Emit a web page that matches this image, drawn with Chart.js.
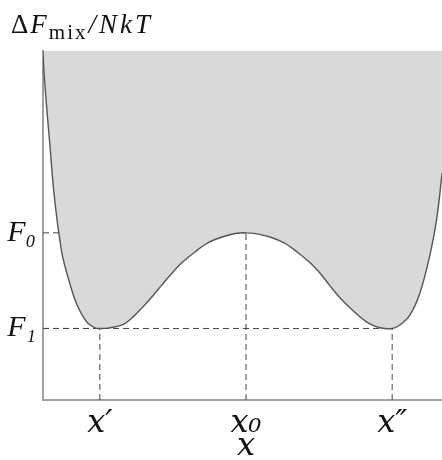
<!DOCTYPE html>
<html>
<head>
<meta charset="utf-8">
<script src="https://cdn.jsdelivr.net/npm/chart.js@4.4.0/dist/chart.umd.min.js"></script>
<style>
    html, body { margin: 0; padding: 0; background: #fff; overflow: hidden; }
    .wrap { position: relative; width: 449px; height: 460px; }
</style>
</head>
<body>
<div class="wrap"><canvas id="mix_chart"></canvas></div>
<script>
// free energy of mixing curve (x 0..1, y 0..1)
const curveX = [0, 0.0025, 0.010, 0.017, 0.025, 0.034, 0.039, 0.049, 0.067, 0.084, 0.108, 0.128, 0.140,
    0.160, 0.195, 0.219, 0.244, 0.268, 0.293, 0.318, 0.342, 0.374, 0.406, 0.441, 0.473, 0.500,
    0.527, 0.559, 0.594, 0.626, 0.658, 0.682, 0.707, 0.732, 0.756, 0.781, 0.805, 0.830, 0.860,
    0.879, 0.904, 0.929, 0.953, 0.970, 0.983];
const curveY = [1.0, 0.940, 0.825, 0.731, 0.616, 0.521, 0.479, 0.407, 0.330, 0.272, 0.223, 0.207, 0.205,
    0.206, 0.215, 0.235, 0.264, 0.295, 0.330, 0.364, 0.393, 0.424, 0.450, 0.467, 0.477, 0.479,
    0.476, 0.467, 0.450, 0.424, 0.393, 0.364, 0.327, 0.292, 0.264, 0.238, 0.218, 0.207, 0.205,
    0.215, 0.244, 0.309, 0.415, 0.521, 0.650];

// marked points: x', x0, x''
const xTickValues = [0.14, 0.5, 0.86];
const xTickLabels = ['x′', 'x₀', 'x″'];
const yTickValues = [0.205, 0.479];
const yTickLabels = ['F₁', 'F₀'];
const guideX = [0.14, 0.5, 0.86];
const guideY = [0.205, 0.479, 0.205];

const SERIF = '"Liberation Serif", "Times New Roman", serif';
const MATH = '"DejaVu Serif", serif';

const curveData = curveX.map((x, i) => ({x: x, y: curveY[i]}));

let guides = [];
guideX.forEach(function (gx, i) {
    guides.push({ data: [{x: 0, y: guideY[i]}, {x: gx, y: guideY[i]}] });
    guides.push({ data: [{x: gx, y: 0}, {x: gx, y: guideY[i]}] });
});

const datasets = [{
    label: 'F',
    data: curveData,
    borderColor: '#555',
    borderWidth: 1.4,
    backgroundColor: '#d9d9d9',
    fill: 'end',
    pointRadius: 0,
    tension: 0.35
}];
guides.forEach(function (g) {
    datasets.push({
        data: g.data,
        borderColor: '#444',
        borderWidth: 1,
        borderDash: [6, 4],
        pointRadius: 0,
        fill: false
    });
});

// title with subscript, drawn in the top padding
const titlePlugin = {
    id: 'mixTitle',
    afterDraw(chart) {
        const ctx = chart.ctx;
        ctx.save();
        ctx.fillStyle = '#111';
        ctx.textBaseline = 'alphabetic';
        let x = 11, y = 33;
        ctx.letterSpacing = '2px';
        ctx.font = '27px ' + SERIF;
        ctx.fillText('Δ', x, y);
        x += ctx.measureText('Δ').width;
        ctx.font = 'italic 27px ' + SERIF;
        ctx.fillText('F', x, y);
        x += ctx.measureText('F').width;
        ctx.font = '21px ' + SERIF;
        ctx.fillText('mix', x, y + 6);
        x += ctx.measureText('mix').width + 1;
        ctx.letterSpacing = '3px';
        ctx.font = 'italic 27px ' + SERIF;
        ctx.fillText('/NkT', x, y);
        ctx.restore();
    }
};

function drawChart() {
    Chart.defaults.plugins.legend.display = false;
    new Chart(document.getElementById('mix_chart'), {
        type: 'line',
        data: { datasets: datasets },
        plugins: [titlePlugin],
        options: {
            responsive: true,
            maintainAspectRatio: false,
            animation: false,
            layout: { padding: { top: 51, right: 0, left: 0, bottom: 0 } },
            plugins: { tooltip: { enabled: false } },
            scales: {
                x: {
                    type: 'linear',
                    min: 0,
                    max: 1,
                    grid: { display: false, drawTicks: false },
                    border: { color: '#a0a0a0', width: 2 },
                    afterBuildTicks: (scale) => { scale.ticks = xTickValues.map(v => ({value: v})); },
                    afterFit: (scale) => { scale.height = 60; },
                    ticks: {
                        padding: 4,
                        color: '#111',
                        font: { family: MATH, style: 'italic', size: 32 },
                        maxRotation: 0,
                        callback: (v, i) => xTickLabels[i]
                    },
                    title: {
                        display: true,
                        text: 'x',
                        color: '#111',
                        padding: { top: 0, bottom: 0 },
                        font: { family: MATH, style: 'italic', size: 32, lineHeight: 0.85 }
                    }
                },
                xt: {
                    type: 'linear',
                    position: 'top',
                    min: 0,
                    max: 1,
                    grid: { display: false, drawTicks: false },
                    border: { color: '#a8a8a8', width: 1 },
                    ticks: { display: false },
                    afterFit: (scale) => { scale.height = 0; }
                },
                y: {
                    type: 'linear',
                    min: 0,
                    max: 1,
                    grid: { display: false, drawTicks: false },
                    border: { color: '#a0a0a0', width: 2 },
                    afterBuildTicks: (scale) => { scale.ticks = yTickValues.map(v => ({value: v})); },
                    afterFit: (scale) => { scale.width = 43; },
                    ticks: {
                        padding: 7,
                        color: '#111',
                        font: { family: SERIF, style: 'italic', size: 30 },
                        callback: (v, i) => yTickLabels[i]
                    }
                }
            }
        }
    });
}

Promise.all([
    document.fonts.load('27px "Liberation Serif"'),
    document.fonts.load('italic 27px "Liberation Serif"'),
    document.fonts.load('italic 32px "DejaVu Serif"')
]).then(drawChart, drawChart);
</script>
</body>
</html>
